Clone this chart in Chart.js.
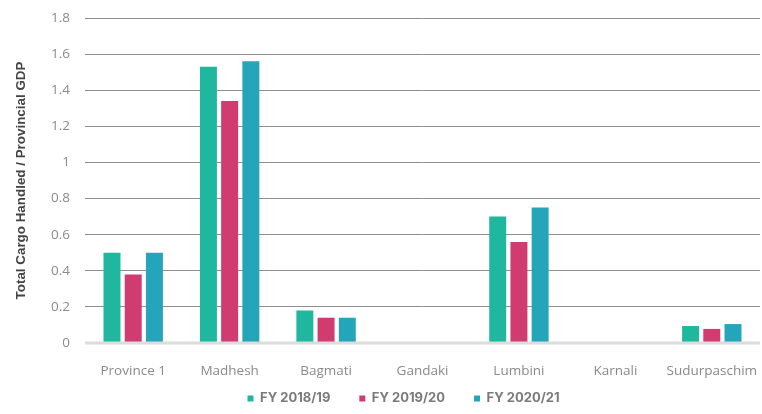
<!DOCTYPE html>
<html>
<head>
<meta charset="utf-8">
<script src="https://cdn.jsdelivr.net/npm/chart.js@4.4.1/dist/chart.umd.min.js"></script>
<style>
  html, body { margin: 0; padding: 0; background: #fff; }
  #wrap { width: 762px; height: 414px; position: relative; }
</style>
</head>
<body>
<div id="wrap"><canvas id="c" width="762" height="414"></canvas></div>
<script>
// Provinces of Nepal
const provinces = ['Province 1', 'Madhesh', 'Bagmati', 'Gandaki', 'Lumbini', 'Karnali', 'Sudurpaschim'];

// Total cargo handled relative to provincial GDP, by fiscal year
const fy2018_19 = [0.50, 1.53, 0.18, 0, 0.70, 0, 0.094];
const fy2019_20 = [0.38, 1.34, 0.14, 0, 0.56, 0, 0.078];
const fy2020_21 = [0.50, 1.56, 0.14, 0, 0.75, 0, 0.105];

const seriesLabels = ['FY 2018/19', 'FY 2019/20', 'FY 2020/21'];
const yTicks = [0, 0.2, 0.4, 0.6, 0.8, 1, 1.2, 1.4, 1.6, 1.8];

const colors = ['#1fb89e', '#d03c70', '#24a5ba'];

// light baseline drawn on top of the bars at y = 0
const baseline = {
  id: 'baseline',
  afterDatasetsDraw(chart) {
    const { ctx, chartArea, scales } = chart;
    const y = scales.y.getPixelForValue(0);
    ctx.save();
    ctx.strokeStyle = '#dcdcdc';
    ctx.lineWidth = 3;
    ctx.beginPath();
    ctx.moveTo(chartArea.left, y);
    ctx.lineTo(chartArea.right, y);
    ctx.stroke();
    ctx.restore();
  }
};

// keep the legend box compact and centre its row under the plot area
const compactLegend = {
  id: 'compactLegend',
  beforeLayout(chart) {
    const lg = chart.legend;
    if (lg && !lg._compact) {
      const fit = lg.fit.bind(lg);
      lg.fit = function () {
        fit();
        this.height = 51;
        if (this.lineWidths && this.lineWidths.length) this.lineWidths[0] -= 34;
      };
      lg._compact = true;
    }
  }
};

new Chart(document.getElementById('c'), {
  type: 'bar',
  data: {
    labels: provinces,
    datasets: [fy2018_19, fy2019_20, fy2020_21].map((d, i) => ({
      label: seriesLabels[i],
      data: d,
      backgroundColor: colors[i],
      borderWidth: 0,
      categoryPercentage: 0.66,
      barPercentage: 0.8
    }))
  },
  options: {
    responsive: false,
    animation: false,
    layout: { padding: { left: 13, right: 2, top: 18, bottom: 0 } },
    plugins: {
      tooltip: { enabled: false },
      legend: {
        position: 'bottom',
        labels: {
          boxWidth: 6,
          boxHeight: 6,
          padding: 29,
          color: '#7a7a7a',
          font: { family: 'Inter', size: 13, weight: 'bold' }
        }
      }
    },
    scales: {
      x: {
        afterFit(axis) {
          axis.height = 20;
          axis.paddingLeft = 0;
          axis.paddingRight = 0;
          // category labels may extend below the short axis box
          axis._computeLabelArea = () => undefined;
        },
        grid: { display: false },
        border: { display: false },
        ticks: {
          color: '#8a8a8a',
          padding: 12,
          maxRotation: 0,
          minRotation: 0,
          autoSkip: false,
          font: { family: 'Open Sans', size: 13.5 }
        }
      },
      y: {
        min: 0,
        max: 1.8,
        afterBuildTicks(axis) { axis.ticks = yTicks.map(v => ({ value: v })); },
        afterFit(axis) {
          axis.width = 72;
          axis.paddingTop = 0;
          axis.paddingBottom = 0;
        },
        grid: { color: '#8f8f8f', lineWidth: 1, drawTicks: false },
        border: { display: false },
        ticks: {
          color: '#8a8a8a',
          padding: 15,
          callback: v => String(v),
          font: { family: 'Open Sans', size: 13.5 }
        },
        title: {
          display: true,
          text: 'Total Cargo Handled / Provincial GDP',
          color: '#444',
          padding: { top: 0, bottom: 4 },
          font: { family: 'Liberation Sans', size: 13.4, weight: 'bold' }
        }
      }
    }
  },
  plugins: [baseline, compactLegend]
});
</script>
</body>
</html>
